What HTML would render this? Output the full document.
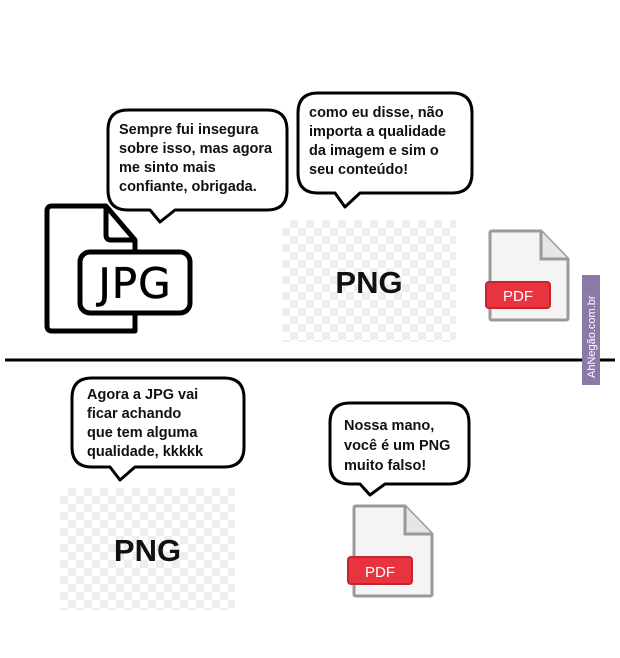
<!DOCTYPE html><html><head><style>
body{margin:0;width:620px;height:658px;background:#fff;position:relative;overflow:hidden;font-family:"Liberation Sans",Arial,sans-serif}
.t{position:absolute;font-weight:bold;font-size:14.5px;line-height:19px;color:#111}
.chk{position:absolute;background-color:#fff;background-image:linear-gradient(45deg,#eee 25%,transparent 25%,transparent 75%,#eee 75%),linear-gradient(45deg,#eee 25%,transparent 25%,transparent 75%,#eee 75%);background-size:16px 16px;background-position:0 0,8px 8px}
.png{position:absolute;font-weight:bold;font-size:31px;color:#111;text-align:center;width:100%}
</style></head><body>
<svg width="620" height="658" style="position:absolute;left:0;top:0">
<g fill="#fff" stroke="#000" stroke-width="3" stroke-linejoin="round">
<path d="M128 110 H267 Q287 110 287 130 V190 Q287 210 267 210 H175 L160 222 L150 210 H128 Q108 210 108 190 V130 Q108 110 128 110 Z"/>
<path d="M318 93 H452 Q472 93 472 113 V173 Q472 193 452 193 H360 L345 207 L335 193 H318 Q298 193 298 173 V113 Q298 93 318 93 Z"/>
<path d="M92 378 H224 Q244 378 244 398 V447 Q244 467 224 467 H135 L120 480 L110 467 H92 Q72 467 72 447 V398 Q72 378 92 378 Z"/>
<path d="M350 403 H449 Q469 403 469 423 V464 Q469 484 449 484 H385 L370 495 L360 484 H350 Q330 484 330 464 V423 Q330 403 350 403 Z"/>
</g>
<g fill="none" stroke="#000" stroke-width="5" stroke-linejoin="round">
<path d="M135 313 V331 H52 Q47 331 47 326 V211 Q47 206 52 206 H106 L135 240 V252"/>
<path d="M106 206 V235 Q106 240 111 240 H135"/>
<rect x="80" y="252" width="110" height="61" rx="10"/>
</g>
<text x="135" y="298" font-family="DejaVu Sans" font-size="42" text-anchor="middle" fill="#000" stroke="#000" stroke-width="0.5" letter-spacing="1">JPG</text>
<g>
<path d="M492 231 H541 L568 259 V318 Q568 320 566 320 H492 Q490 320 490 318 V233 Q490 231 492 231 Z" fill="#f4f4f4" stroke="#9a9a9a" stroke-width="3"/>
<path d="M541 231 V259 H568" fill="#e6e6e6" stroke="#9a9a9a" stroke-width="3"/>
<rect x="486" y="282" width="64" height="26" rx="3" fill="#e8343f" stroke="#c52530" stroke-width="2"/>
<text x="518" y="301" font-family="Liberation Sans" font-size="15" fill="#fff" text-anchor="middle">PDF</text>
</g>
<g>
<path d="M356 506 H405 L432 534 V594 Q432 596 430 596 H356 Q354 596 354 594 V508 Q354 506 356 506 Z" fill="#f4f4f4" stroke="#9a9a9a" stroke-width="3"/>
<path d="M405 506 V534 H432" fill="#e6e6e6" stroke="#9a9a9a" stroke-width="3"/>
<rect x="348" y="557" width="64" height="27" rx="3" fill="#e8343f" stroke="#c52530" stroke-width="2"/>
<text x="380" y="577" font-family="Liberation Sans" font-size="15" fill="#fff" text-anchor="middle">PDF</text>
</g>
<line x1="5" y1="360" x2="615" y2="360" stroke="#000" stroke-width="3"/>
<rect x="582" y="275" width="18" height="110" fill="#8c7aa6"/>
<text transform="translate(595,378) rotate(-90)" font-family="Liberation Sans" font-size="11" fill="#fff">AhNegão.com.br</text>
</svg>
<div class="t" style="left:119px;top:121px">Sempre fui insegura<br>sobre isso, mas agora<br>me sinto mais<br>confiante, obrigada.</div>
<div class="t" style="left:309px;top:104px">como eu disse, não<br>importa a qualidade<br>da imagem e sim o<br>seu conteúdo!</div>
<div class="t" style="left:87px;top:386px">Agora a JPG vai<br>ficar achando<br>que tem alguma<br>qualidade, kkkkk</div>
<div class="t" style="left:344px;top:416px;line-height:20px">Nossa mano,<br>você é um PNG<br>muito falso!</div>
<div class="chk" style="left:282px;top:220px;width:174px;height:122px"><div class="png" style="top:45px">PNG</div></div>
<div class="chk" style="left:60px;top:488px;width:175px;height:122px"><div class="png" style="top:45px">PNG</div></div>
</body></html>
